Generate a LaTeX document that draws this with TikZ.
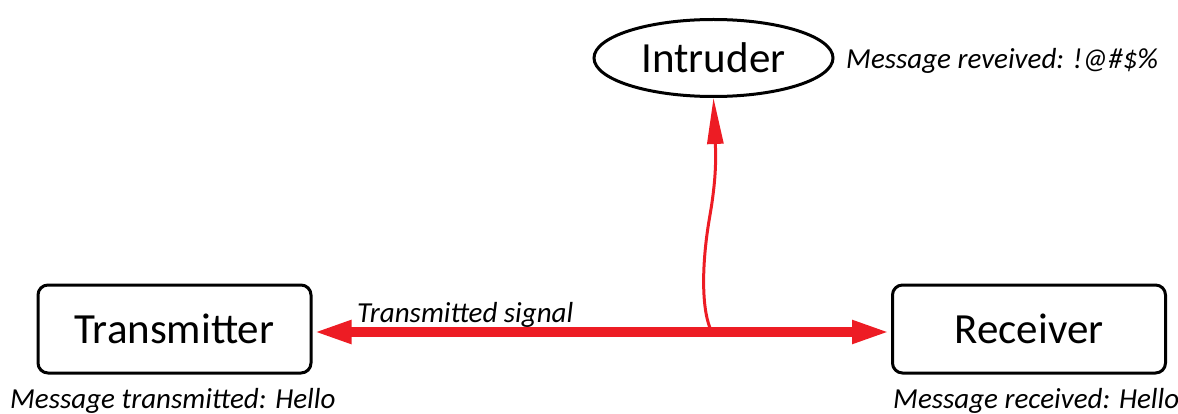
\documentclass[tikz,border=0pt]{standalone}
\usepackage{fontspec}
\setmainfont{Carlito}
\usetikzlibrary{arrows.meta,shapes.geometric}
\definecolor{sigred}{RGB}{237,28,36}
\begin{document}
\begin{tikzpicture}[x=1pt,y=-1pt,
  box/.style={draw,line width=3pt,rounded corners=10pt,minimum width=273pt,minimum height=88pt,inner sep=0pt,font=\fontsize{43}{50}\selectfont},
  oval/.style={draw,line width=3pt,ellipse,minimum width=239pt,minimum height=77pt,inner sep=0pt,font=\fontsize{43}{50}\selectfont},
  note/.style={inner sep=0pt,font=\fontsize{29}{34}\selectfont\itshape},
  signal/.style={draw=sigred,line width=10pt,{Triangle[length=39pt,width=21pt]}-{Triangle[length=39pt,width=21pt]}},
  tapline/.style={draw=sigred,line width=3pt,-{Triangle[length=46pt,width=16pt]}}]
\useasboundingbox (0,0) rectangle (1178,414);
\node[box] (T) at (174.5,329) {Transmitter};
\node[box] (R) at (1029,329) {Receiver};
\node[oval] (I) at (713.5,58) {Intruder};
\node[note,anchor=base west] (tn) at (10,408) {Message transmitted: Hello};
\node[note,anchor=base west] (rn) at (893,408) {Message received: Hello};
\node[note,anchor=base west] (in) at (846,69) {Message reveived: !@\#\$\%};
\node[note,anchor=base west] (sl) at (357,322) {Transmitted signal};
\draw[signal] ([yshift=-3pt]T.east) -- ([yshift=-3pt]R.west);
\coordinate (tap) at (710,328);
\draw[tapline] (tap) .. controls (701,305) and (702,260) .. (710,215)
  .. controls (716,180) and (716,160) .. (I.south);
\end{tikzpicture}
\end{document}
